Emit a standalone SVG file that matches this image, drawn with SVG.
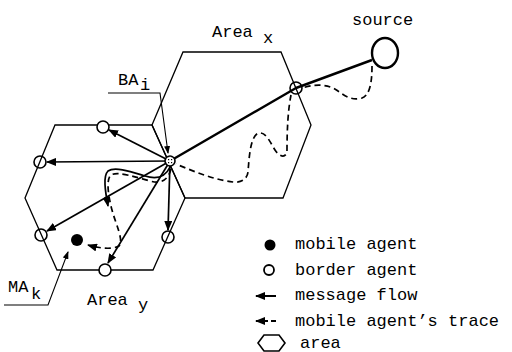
<svg xmlns="http://www.w3.org/2000/svg" width="512" height="352" viewBox="0 0 512 352">
<style>
text{font-family:"Liberation Mono","Courier New",monospace;font-size:17px;fill:#000}
.hex{fill:none;stroke:#000;stroke-width:1.3;stroke-linejoin:miter}
.node{fill:none;stroke:#000;stroke-width:1.6}
.msg{fill:none;stroke:#000;stroke-width:1.7;marker-end:url(#ah)}
.lead{fill:none;stroke:#000;stroke-width:1.1;marker-end:url(#ahs)}
.trace{fill:none;stroke:#000;stroke-width:1.7;stroke-dasharray:6 4}
.thick{fill:none;stroke:#000;stroke-width:2.4;stroke-linejoin:round}
</style>
<defs>
<marker id="ah" markerUnits="userSpaceOnUse" markerWidth="10" markerHeight="8" refX="9" refY="4" orient="auto">
<path d="M0,0 L10,4 L0,8 z" fill="#000"/>
</marker>
<marker id="ahs" markerUnits="userSpaceOnUse" markerWidth="8" markerHeight="6" refX="7" refY="3" orient="auto">
<path d="M0,0 L8,3 L0,6 z" fill="#000"/>
</marker>
<pattern id="hatch" patternUnits="userSpaceOnUse" width="3" height="3">
<rect width="3" height="3" fill="#fff"/>
<rect width="1.2" height="1.2" fill="#000"/>
</pattern>
</defs>

<g id="areaX"><polygon class="hex" points="183,52 281,52 311,125 283,198 185,198 152,125"/></g>
<g id="areaY"><polygon class="hex" points="55,125 152,125 185,198 153,270 57,270 25,198"/></g>

<g id="connectors">
<polyline class="thick" points="170,161 296,88 372,60"/>
<line class="msg" x1="170" y1="161" x2="109" y2="130"/>
<line class="msg" x1="170" y1="161" x2="47" y2="162"/>
<line class="msg" x1="170" y1="161" x2="47" y2="231"/>
<line class="msg" x1="170" y1="161" x2="108" y2="263"/>
<line class="msg" x1="170" y1="161" x2="168" y2="230"/>
<path class="msg" d="M170,167 C165,178 155,179 145,176 C132,172 115,166 108,171 C103,176 105,190 108,206"/>
<path class="trace" d="M372,66 C372,82 370,95 362,98 C352,101 345,96 338,91 C330,85 318,83 302,88"/>
<path class="trace" d="M291,95 C288,110 287,130 287,150 C287,158 280,158 275,150 C270,142 266,132 259,133 C250,135 249,160 248,172 C247,180 240,183 233,182 C215,180 195,172 176,164"/>
<path class="trace" d="M171,169 C168,181 160,184 150,181 C135,177 118,171 111,175 C106,179 108,195 112,210 C116,225 124,240 119,246 C112,250 98,248 88,245" marker-end="url(#ah)"/>
<polyline class="lead" points="108,93 160,93 168,153"/>
<polyline class="lead" points="4,305 48,305 68,252"/>
</g>

<g id="source"><ellipse cx="385" cy="53" rx="13" ry="15" fill="#fff" stroke="#000" stroke-width="2.4"/><text x="352" y="25">source</text></g>
<g id="BAx"><circle class="node" cx="296" cy="88" r="6"/></g>
<g id="BAi"><circle cx="170" cy="161" r="5" fill="url(#hatch)" stroke="#000" stroke-width="1.6"/></g>
<g id="n1"><circle cx="103" cy="127" r="6" fill="#fff" stroke="#000" stroke-width="1.6"/></g>
<g id="n2"><circle class="node" cx="40" cy="162" r="6"/></g>
<g id="n3"><circle class="node" cx="41" cy="235" r="6"/></g>
<g id="n4"><circle cx="105" cy="270" r="6" fill="#fff" stroke="#000" stroke-width="1.6"/></g>
<g id="n5"><circle class="node" cx="168" cy="237" r="6"/></g>
<g id="MA"><circle cx="77" cy="240" r="6" fill="#000"/></g>

<g id="labels">
<text x="212" y="37">Area <tspan dy="6">x</tspan></text>
<text x="118" y="85">BA<tspan x="140" dy="5">i</tspan></text>
<text x="8" y="292">MA<tspan x="31" dy="7">k</tspan></text>
<text x="87" y="305">Area <tspan dy="5">y</tspan></text>
</g>

<g id="legend">
<circle cx="270" cy="245" r="5.5" fill="#000"/>
<text x="295" y="249">mobile agent</text>
<circle cx="269" cy="270" r="5" fill="none" stroke="#000" stroke-width="1.8"/>
<text x="295" y="275">border agent</text>
<line x1="276" y1="296" x2="256" y2="296" stroke="#000" stroke-width="2" marker-end="url(#ah)"/>
<text x="295" y="300">message flow</text>
<line x1="276" y1="321" x2="256" y2="321" stroke="#000" stroke-width="2" stroke-dasharray="5 3" marker-end="url(#ah)"/>
<text x="295" y="326">mobile agent’s trace</text>
<polygon points="258,343 264,335 279,335 285,343 279,351 264,351" fill="none" stroke="#000" stroke-width="1.6"/>
<text x="300" y="348">area</text>
</g>
</svg>
